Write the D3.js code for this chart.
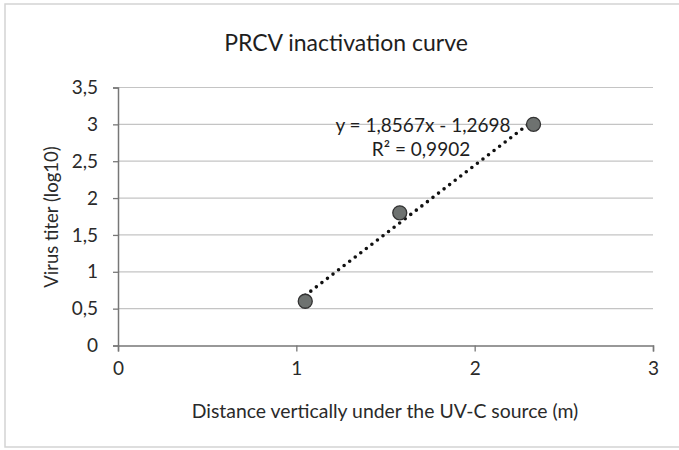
<!DOCTYPE html>
<html><head><meta charset="utf-8">
<script src="https://cdn.jsdelivr.net/npm/d3@7"></script>
<style>body{margin:0;background:#fff;} svg{display:block;}</style>
</head><body>
<script>
const xValues = [1.05, 1.58, 2.33];
const yValues = [0.6, 1.8, 3.0];
const slope = 1.8567, intercept = -1.2698;
const xTicks = [0, 1, 2, 3];
const yTicks = [0, 0.5, 1, 1.5, 2, 2.5, 3, 3.5];
const title = "PRCV inactivation curve";
const xTitle = "Distance vertically under the UV-C source (m)";
const yTitle = "Virus titer (log10)";
const eqText = "y = 1,8567x - 1,2698";
const r2Text = "R² = 0,9902";

const W = 679, H = 450;
const svg = d3.select("body").append("svg").attr("width", W).attr("height", H);
const font = "Lato, 'Open Sans', sans-serif";
const fmt = v => String(v).replace(".", ",");

// faint outer frame
svg.append("path").attr("d", `M${W} 4 H5 V447 H${W}`).attr("fill","none").attr("stroke","#d4d4d4").attr("stroke-width",1.5);

const x = d3.scaleLinear().domain([0, 3]).range([118, 653]);
const y = d3.scaleLinear().domain([0, 3.5]).range([345.5, 87.5]);

// gridlines
svg.append("g").selectAll("line").data(yTicks.filter(d => d > 0)).join("line")
  .attr("x1", x(0)).attr("x2", x(3)).attr("y1", d => y(d)).attr("y2", d => y(d))
  .attr("stroke", "#c4c4c4").attr("stroke-width", 1.2);

// y axis
const yAx = svg.append("g").attr("transform", `translate(${x(0)},0)`)
  .call(d3.axisLeft(y).tickValues(yTicks).tickSize(5).tickPadding(15).tickFormat(fmt));
yAx.select(".domain").attr("stroke", "#777").attr("stroke-width", 1.5);
yAx.selectAll(".tick line").attr("stroke", "#777").attr("stroke-width", 1.3);
yAx.selectAll("text").attr("font-family", font).attr("font-size", 19).attr("fill", "#2a2a2a");

// x axis
const xAx = svg.append("g").attr("transform", `translate(0,${y(0)})`)
  .call(d3.axisBottom(x).tickValues(xTicks).tickSize(6).tickPadding(10).tickFormat(fmt));
xAx.select(".domain").attr("stroke", "#777").attr("stroke-width", 1.5);
xAx.selectAll(".tick line").attr("stroke", "#777").attr("stroke-width", 1.3);
xAx.selectAll("text").attr("font-family", font).attr("font-size", 19).attr("fill", "#2a2a2a");

// trendline
const x0 = d3.min(xValues), x1 = d3.max(xValues);
svg.append("line")
  .attr("x1", x(x0)).attr("y1", y(slope * x0 + intercept))
  .attr("x2", x(x1)).attr("y2", y(slope * x1 + intercept))
  .attr("stroke", "#111").attr("stroke-width", 3.6)
  .attr("stroke-linecap", "round").attr("stroke-dasharray", "0 7");

// points
svg.append("g").selectAll("circle").data(xValues.map((v, i) => [v, yValues[i]])).join("circle")
  .attr("cx", d => x(d[0])).attr("cy", d => y(d[1])).attr("r", 7)
  .attr("fill", "#6e7270").attr("stroke", "#333").attr("stroke-width", 1.3);

// texts
svg.append("text").attr("x", 346).attr("y", 51).attr("text-anchor", "middle")
  .attr("font-family", font).attr("font-size", 23).attr("fill", "#1e1e1e").text(title);
svg.append("text").attr("x", 385).attr("y", 418).attr("text-anchor", "middle")
  .attr("font-family", font).attr("font-size", 19.4).attr("fill", "#2a2a2a").text(xTitle);
svg.append("text").attr("transform", "translate(58,217) rotate(-90)").attr("text-anchor", "middle")
  .attr("font-family", font).attr("font-size", 18.5).attr("fill", "#2a2a2a").text(yTitle);
svg.append("text").attr("x", 423).attr("y", 132).attr("text-anchor", "middle")
  .attr("font-family", font).attr("font-size", 19).attr("fill", "#1e1e1e").text(eqText);
svg.append("text").attr("x", 421).attr("y", 156).attr("text-anchor", "middle")
  .attr("font-family", font).attr("font-size", 19).attr("fill", "#1e1e1e").text(r2Text);
</script>
</body></html>
